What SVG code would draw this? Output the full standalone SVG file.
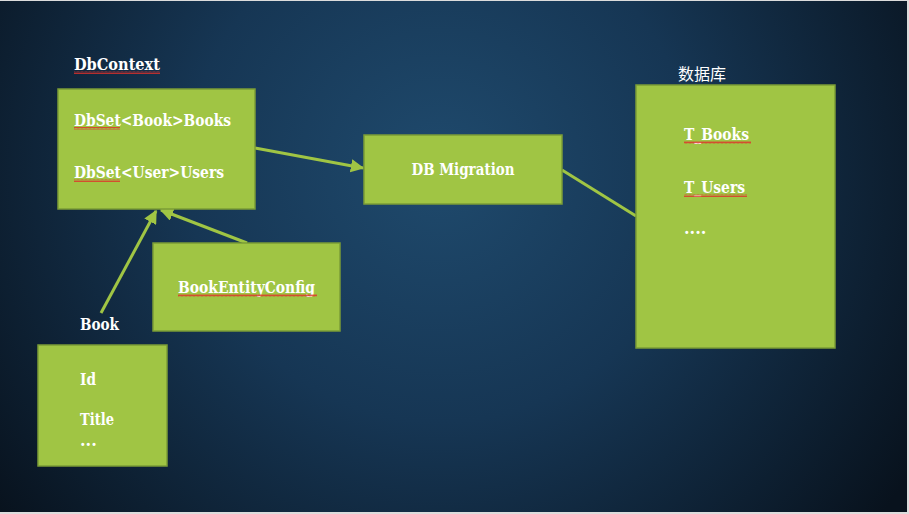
<svg xmlns="http://www.w3.org/2000/svg" width="909" height="514" viewBox="0 0 909 514">
<defs>
<radialGradient id="bg" cx="440" cy="170" r="560" gradientUnits="userSpaceOnUse">
<stop offset="0" stop-color="#1f4a6d"/>
<stop offset="0.45" stop-color="#163654"/>
<stop offset="1" stop-color="#08121d"/>
</radialGradient>
<pattern id="wave" width="4" height="3" patternUnits="userSpaceOnUse">
<path d="M0 2.5 L1 0.5 L2 2.5 L3 0.5 L4 2.5" fill="none" stroke="#e0302a" stroke-width="0.8"/>
</pattern>
<marker id="arr" viewBox="0 0 10 10" refX="9" refY="5" markerWidth="4.5" markerHeight="4.5" orient="auto" markerUnits="strokeWidth">
<path d="M0 0 L10 5 L0 10 z" fill="#a0c544"/>
</marker>
<style>
.box{fill:#a0c544;stroke:#7b9c36;stroke-width:1.5}
.t{font-family:"DejaVu Serif","Liberation Serif",serif;font-size:16px;fill:#ffffff;font-weight:bold}
.cjk{font-family:"Noto Sans CJK SC","Noto Sans",sans-serif;font-size:16px;fill:#ffffff}
.c{stroke:#a0c544;stroke-width:3;fill:none}
.sq{fill:url(#wave)}
</style>
</defs>
<rect x="0" y="0" width="909" height="514" fill="#dcdcdc"/>
<rect x="0" y="1" width="907" height="511" fill="url(#bg)"/>

<g id="connectors">
<line class="c" x1="255" y1="148" x2="363" y2="168" marker-end="url(#arr)"/>
<line class="c" x1="101" y1="313" x2="156" y2="211" marker-end="url(#arr)"/>
<line class="c" x1="247" y1="243" x2="161" y2="210" marker-end="url(#arr)"/>
<line class="c" x1="562" y1="170" x2="636" y2="216"/>
</g>

<g id="dbcontext">
<text class="t" x="74" y="70" textLength="86" lengthAdjust="spacingAndGlyphs">DbContext</text>
<rect class="sq" x="74" y="71" width="86" height="3"/>
<rect class="box" x="58" y="89" width="197" height="120"/>
<text class="t" x="74" y="126" textLength="157" lengthAdjust="spacingAndGlyphs">DbSet&lt;Book&gt;Books</text>
<rect class="sq" x="74" y="127" width="46" height="3"/>
<text class="t" x="74" y="178" textLength="150" lengthAdjust="spacingAndGlyphs">DbSet&lt;User&gt;Users</text>
<rect class="sq" x="74" y="179" width="46" height="3"/>
</g>

<g id="migration">
<rect class="box" x="364" y="135" width="198" height="69"/>
<text class="t" x="463" y="175" text-anchor="middle" textLength="103" lengthAdjust="spacingAndGlyphs">DB Migration</text>
</g>

<g id="database">
<text class="cjk" x="678" y="80">数据库</text>
<rect class="box" x="636" y="85" width="199" height="263"/>
<text class="t" x="684" y="140" textLength="65" lengthAdjust="spacingAndGlyphs">T_Books</text>
<rect class="sq" x="684" y="141" width="67" height="3"/>
<text class="t" x="684" y="193" textLength="61" lengthAdjust="spacingAndGlyphs">T_Users</text>
<rect class="sq" x="684" y="194" width="63" height="3"/>
<text class="t" x="684" y="234">....</text>
</g>

<g id="entityconfig">
<rect class="box" x="153" y="243" width="187" height="88"/>
<text class="t" x="178" y="293" textLength="137" lengthAdjust="spacingAndGlyphs">BookEntityConfig</text>
<rect class="sq" x="178" y="294" width="139" height="3"/>
</g>

<g id="book">
<text class="t" x="80" y="330" textLength="39" lengthAdjust="spacingAndGlyphs">Book</text>
<rect class="box" x="38" y="345" width="129" height="121"/>
<text class="t" x="80" y="385" textLength="16" lengthAdjust="spacingAndGlyphs">Id</text>
<text class="t" x="80" y="425" textLength="34" lengthAdjust="spacingAndGlyphs">Title</text>
<text class="t" x="80" y="446">...</text>
</g>
</svg>
